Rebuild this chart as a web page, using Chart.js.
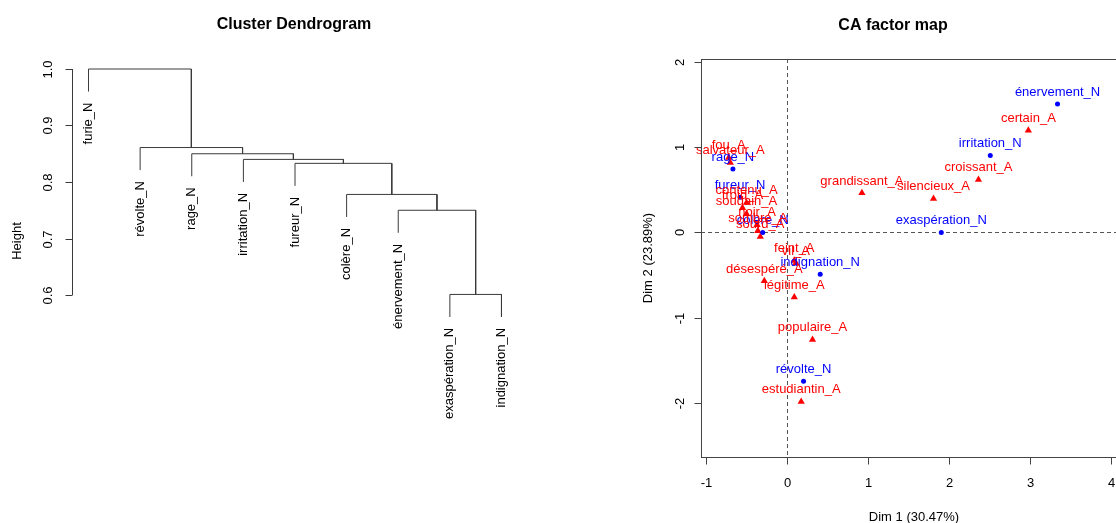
<!DOCTYPE html>
<html>
<head>
<meta charset="utf-8">
<script src="https://cdn.jsdelivr.net/npm/chart.js@4.4.0/dist/chart.umd.min.js"></script>
<style>
html,body{margin:0;padding:0;background:#fff;overflow:hidden;width:1116px;height:523px;}
canvas{position:absolute;top:0;}
#dend{left:0;}
#ca{left:560px;}
</style>
</head>
<body>
<canvas id="dend" width="560" height="523"></canvas>
<canvas id="ca" width="600" height="523"></canvas>
<script>
// ---------- Dendrogram data ----------
const leafLabels = ['furie_N','révolte_N','rage_N','irritation_N','fureur_N','colère_N','énervement_N','exaspération_N','indignation_N'];
// hclust-style merge matrix (negative = leaf index, positive = earlier merge)
const mergeLeft  = [-8, -7, -6, -5, -4, -3, -2, -1];
const mergeRight = [-9,  1,  2,  3,  4,  5,  6,  7];
const mergeHeights = [0.601, 0.750, 0.778, 0.833, 0.840, 0.850, 0.861, 1.000];
const heightTicks = [0.6, 0.7, 0.8, 0.9, 1.0];

// ---------- CA factor map data ----------
const rowLabels = ['énervement_N','irritation_N','exaspération_N','rage_N','fureur_N','colère_N','indignation_N','révolte_N'];
const rowDim1   = [3.34, 2.51, 1.905, -0.668, -0.58, -0.30, 0.41, 0.204];
const rowDim2   = [1.51, 0.906, 0.0, 0.747, 0.415, 0.0, -0.49, -1.75];

const colLabels = ['certain_A','croissant_A','silencieux_A','grandissant_A','fou_A','salvateur_A','contenu_A','froid_A','soudain_A','noir_A','sombre_A','sourd_A','feint_A','vil_A','désespéré_A','légitime_A','populaire_A','estudiantin_A'];
const colDim1   = [2.98, 2.364, 1.809, 0.925, -0.72, -0.70, -0.50, -0.55, -0.50, -0.37, -0.36, -0.33, 0.09, 0.11, -0.28, 0.09, 0.315, 0.175];
const colDim2   = [1.20, 0.621, 0.398, 0.465, 0.88, 0.82, 0.35, 0.29, 0.22, 0.09, 0.02, -0.05, -0.33, -0.36, -0.57, -0.76, -1.26, -1.99];

const dimTicksX = [-1, 0, 1, 2, 3, 4];
const dimTicksY = [-2, -1, 0, 1, 2];
const dim1Label = 'Dim 1 (30.47%)';
const dim2Label = 'Dim 2 (23.89%)';

const FONT = "'Liberation Sans', Arial, Helvetica, sans-serif";

// ---------- Build dendrogram segments ----------
const hang = 0.1 * (Math.max(...mergeHeights) - Math.min(...mergeHeights));
const clusterX = [], leafTop = new Array(leafLabels.length);
function nodeX(id){ return id < 0 ? -id : clusterX[id-1]; }
const dendSets = [];
mergeHeights.forEach((h, k) => {
  const a = mergeLeft[k], b = mergeRight[k];
  const xa = nodeX(a), xb = nodeX(b);
  const ya = a < 0 ? h - hang : mergeHeights[a-1];
  const yb = b < 0 ? h - hang : mergeHeights[b-1];
  if (a < 0) leafTop[-a-1] = ya;
  if (b < 0) leafTop[-b-1] = yb;
  clusterX.push((xa + xb) / 2);
  dendSets.push({
    data: [{x:xa,y:ya},{x:xa,y:h},{x:xb,y:h},{x:xb,y:yb}],
    showLine: true, borderColor: '#3a3a3a', borderWidth: 1, pointRadius: 0,
    tension: 0, clip: false, fill: false
  });
});

const dendPlugin = {
  id: 'dendAxes',
  afterDraw(chart) {
    const ctx = chart.ctx, xs = chart.scales.x, ys = chart.scales.y;
    ctx.save();
    ctx.strokeStyle = '#3a3a3a'; ctx.lineWidth = 1; ctx.fillStyle = '#000';
    const ax = Math.round(xs.left) + 0.5;
    const yTop = ys.getPixelForValue(heightTicks[heightTicks.length-1]);
    const yBot = ys.getPixelForValue(heightTicks[0]);
    ctx.beginPath(); ctx.moveTo(ax, yTop); ctx.lineTo(ax, yBot); ctx.stroke();
    ctx.font = '13px ' + FONT;
    heightTicks.forEach(t => {
      const py = Math.round(ys.getPixelForValue(t)) + 0.5;
      ctx.beginPath(); ctx.moveTo(ax, py); ctx.lineTo(ax - 7, py); ctx.stroke();
      ctx.save(); ctx.translate(ax - 24, py); ctx.rotate(-Math.PI/2);
      ctx.textAlign = 'center'; ctx.textBaseline = 'middle';
      ctx.fillText(t.toFixed(1), 0, 0); ctx.restore();
    });
    // leaf labels
    leafLabels.forEach((lab, i) => {
      const px = xs.getPixelForValue(i + 1);
      const py = ys.getPixelForValue(leafTop[i]);
      ctx.save(); ctx.translate(px, py + 11); ctx.rotate(-Math.PI/2);
      ctx.textAlign = 'right'; ctx.textBaseline = 'middle';
      ctx.fillText(lab, 0, 0); ctx.restore();
    });
    // Height label
    ctx.save(); ctx.translate(17.5, 241); ctx.rotate(-Math.PI/2);
    ctx.textAlign = 'center'; ctx.textBaseline = 'middle';
    ctx.fillText('Height', 0, 0); ctx.restore();
    // title
    ctx.font = 'bold 16px ' + FONT; ctx.textAlign = 'center'; ctx.textBaseline = 'middle';
    ctx.fillText('Cluster Dendrogram', 294, 25);
    ctx.restore();
  }
};

new Chart(document.getElementById('dend'), {
  type: 'scatter',
  data: { datasets: dendSets },
  options: {
    responsive: false, animation: false, devicePixelRatio: 1,
    layout: { padding: { left: 72, right: 42, top: 69, bottom: 228 } },
    scales: {
      x: { type: 'linear', display: false, min: 0.68, max: 9.32 },
      y: { type: 'linear', display: false, min: 0.6, max: 1.0 }
    },
    plugins: { legend: { display: false }, tooltip: { enabled: false } }
  },
  plugins: [dendPlugin]
});

// ---------- CA factor map ----------
const caPlugin = {
  id: 'caAxes',
  beforeDatasetsDraw(chart) {
    const ctx = chart.ctx, xs = chart.scales.x, ys = chart.scales.y, a = chart.chartArea;
    ctx.save();
    ctx.strokeStyle = '#555'; ctx.lineWidth = 1; ctx.setLineDash([4, 3]);
    const x0 = Math.round(xs.getPixelForValue(0)) + 0.5;
    const y0 = Math.round(ys.getPixelForValue(0)) + 0.5;
    ctx.beginPath(); ctx.moveTo(x0, a.top); ctx.lineTo(x0, a.bottom); ctx.stroke();
    ctx.beginPath(); ctx.moveTo(a.left, y0); ctx.lineTo(a.right, y0); ctx.stroke();
    ctx.restore();
  },
  afterDatasetsDraw(chart) {
    const ctx = chart.ctx, xs = chart.scales.x, ys = chart.scales.y, a = chart.chartArea;
    ctx.save();
    ctx.font = '13px ' + FONT; ctx.textAlign = 'center'; ctx.textBaseline = 'middle';
    rowLabels.forEach((lab, i) => {
      ctx.fillStyle = '#0000ff';
      ctx.fillText(lab, xs.getPixelForValue(rowDim1[i]), ys.getPixelForValue(rowDim2[i]) - 12);
    });
    colLabels.forEach((lab, i) => {
      ctx.fillStyle = '#ff0000';
      ctx.fillText(lab, xs.getPixelForValue(colDim1[i]), ys.getPixelForValue(colDim2[i]) - 12);
    });
    // box
    ctx.strokeStyle = '#444'; ctx.lineWidth = 1; ctx.fillStyle = '#000';
    ctx.strokeRect(Math.round(a.left)+0.5, Math.round(a.top)+0.5, Math.round(a.right-a.left), Math.round(a.bottom-a.top));
    // x ticks
    const by = Math.round(a.bottom) + 0.5;
    dimTicksX.forEach(t => {
      const px = Math.round(xs.getPixelForValue(t)) + 0.5;
      ctx.beginPath(); ctx.moveTo(px, by); ctx.lineTo(px, by + 7); ctx.stroke();
      ctx.fillText(String(t), px, 483);
    });
    // y ticks
    const lx = Math.round(a.left) + 0.5;
    dimTicksY.forEach(t => {
      const py = Math.round(ys.getPixelForValue(t)) + 0.5;
      ctx.beginPath(); ctx.moveTo(lx, py); ctx.lineTo(lx - 7, py); ctx.stroke();
      ctx.save(); ctx.translate(680 - 560, py); ctx.rotate(-Math.PI/2);
      ctx.fillText(String(t), 0, 0); ctx.restore();
    });
    ctx.fillText(dim1Label, 914 - 560, 517);
    ctx.save(); ctx.translate(648 - 560, (a.top + a.bottom) / 2); ctx.rotate(-Math.PI/2);
    ctx.fillText(dim2Label, 0, 0); ctx.restore();
    ctx.font = 'bold 16px ' + FONT;
    ctx.fillText('CA factor map', 893 - 560, 26);
    ctx.restore();
  }
};

new Chart(document.getElementById('ca'), {
  type: 'scatter',
  data: {
    datasets: [
      { label: 'rows', data: rowDim1.map((v, i) => ({x: v, y: rowDim2[i]})),
        pointStyle: 'circle', pointRadius: 2.5, backgroundColor: '#0000ff', borderColor: '#0000ff', borderWidth: 0 },
      { label: 'cols', data: colDim1.map((v, i) => ({x: v, y: colDim2[i]})),
        pointStyle: 'triangle', pointRadius: 4.2, backgroundColor: '#ff0000', borderColor: '#ff0000', borderWidth: 0 }
    ]
  },
  options: {
    responsive: false, animation: false, devicePixelRatio: 1,
    layout: { padding: { left: 141, right: 33, top: 59, bottom: 66 } },
    scales: {
      x: { type: 'linear', display: false, min: -1.062, max: 4.198 },
      y: { type: 'linear', display: false, min: -2.64, max: 2.04 }
    },
    plugins: { legend: { display: false }, tooltip: { enabled: false } }
  },
  plugins: [caPlugin]
});
</script>
</body>
</html>
